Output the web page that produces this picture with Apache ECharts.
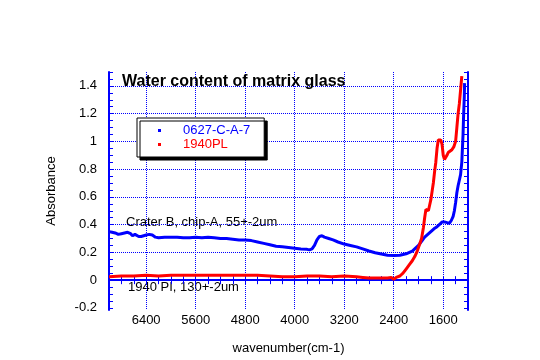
<!DOCTYPE html>
<html>
<head>
<meta charset="utf-8">
<script src="https://cdn.jsdelivr.net/npm/echarts@6/dist/echarts.min.js"></script>
<style>html,body{margin:0;padding:0;background:#fff;}#c{width:540px;height:360px;}</style>
</head>
<body>
<div id="c"></div>
<script>
// wavenumber (cm-1), absorbance
const blueWave = [7000,6950,6900,6850,6800,6750,6700,6650,6620,6580,6520,6480,6440,6400,6350,6300,6250,6200,6100,6000,5900,5800,5700,5600,5500,5400,5300,5200,5100,5000,4900,4800,4700,4600,4500,4400,4300,4200,4100,4000,3900,3800,3760,3720,3680,3640,3600,3560,3520,3450,3380,3300,3200,3100,3000,2900,2800,2700,2600,2500,2400,2300,2200,2100,2000,1950,1900,1850,1800,1750,1700,1650,1620,1580,1540,1500,1470,1440,1420,1400,1380,1360,1340,1320,1300,1290,1280,1270,1260,1255];
const blueAbs  = [0.35,0.345,0.34,0.33,0.335,0.34,0.345,0.335,0.32,0.33,0.315,0.315,0.32,0.325,0.33,0.325,0.31,0.305,0.31,0.31,0.31,0.305,0.305,0.31,0.305,0.31,0.305,0.30,0.30,0.295,0.29,0.29,0.285,0.275,0.265,0.255,0.245,0.24,0.235,0.23,0.225,0.222,0.218,0.225,0.25,0.29,0.315,0.32,0.31,0.30,0.29,0.275,0.26,0.25,0.24,0.225,0.21,0.198,0.188,0.18,0.178,0.18,0.19,0.21,0.25,0.28,0.31,0.33,0.35,0.37,0.385,0.405,0.42,0.42,0.415,0.41,0.43,0.46,0.5,0.56,0.63,0.68,0.72,0.76,0.85,0.95,1.05,1.2,1.32,1.42];
const redWave  = [7000,6800,6600,6400,6200,6000,5800,5600,5400,5200,5000,4800,4600,4400,4200,4000,3800,3600,3400,3200,3000,2900,2800,2700,2600,2500,2440,2400,2360,2300,2250,2200,2150,2100,2060,2020,1980,1950,1920,1900,1880,1860,1840,1820,1800,1780,1760,1740,1720,1700,1680,1660,1640,1620,1600,1580,1560,1540,1520,1500,1460,1430,1400,1380,1360,1340,1320,1300];
const redAbs   = [0.025,0.03,0.03,0.035,0.03,0.035,0.035,0.035,0.035,0.035,0.035,0.035,0.035,0.03,0.025,0.025,0.03,0.03,0.025,0.03,0.025,0.02,0.015,0.015,0.015,0.015,0.02,0.005,0.02,0.03,0.05,0.08,0.11,0.14,0.17,0.21,0.26,0.30,0.38,0.45,0.51,0.50,0.50,0.54,0.58,0.64,0.70,0.78,0.85,0.95,1.01,1.02,1.01,0.98,0.90,0.87,0.87,0.90,0.92,0.93,0.94,0.96,1.0,1.1,1.2,1.27,1.37,1.47];

const xLabels = [1600,2400,3200,4000,4800,5600,6400];
const yLabels = [-0.2,0,0.2,0.4,0.6,0.8,1,1.2,1.4];
const yGrid   = [0,0.2,0.4,0.6,0.8,1,1.2,1.4];
const yTicks  = [-0.2,-0.15,-0.1,-0.05,0,0.05,0.1,0.15,0.2,0.25,0.3,0.35,0.4,0.45,0.5,0.55,0.6,0.65,0.7,0.75,0.8,0.85,0.9,0.95,1,1.05,1.1,1.15,1.2,1.25,1.3,1.35,1.4,1.45,1.5];

const names = ['0627-C-A-7','1940PL'];
const BLUE = '#0000ff', RED = '#ff0000';
const FONT = 'Liberation Sans';

function zip(a,b){return a.map((v,i)=>[v,b[i]]);}

const chart = echarts.init(document.getElementById('c'), null, {renderer:'canvas'});
const axisLine = {show:true, lineStyle:{color:BLUE, width:2}};
const tick = {show:true, inside:true, length:4, lineStyle:{color:BLUE, width:1}};
const grid = {show:true, lineStyle:{color:BLUE, width:1, type:'dotted'}};
const xBase = {type:'value', min:1200, max:7000, inverse:true, interval:200};
const yBase = {type:'value', min:-0.215, max:1.5};

chart.setOption({
  animation:false,
  backgroundColor:'#fff',
  grid:{left:109, right:72, top:72, bottom:48, containLabel:false},
  title:{text:'Water content of matrix glass', left:122, top:74, padding:0,
    textStyle:{fontFamily:FONT, fontSize:16, fontWeight:'bold', color:'#000'}},
  legend:{orient:'vertical', left:137, top:118, padding:[6,14,6,21], itemGap:1,
    backgroundColor:'#fff', borderColor:'#000', borderWidth:1,
    shadowColor:'#000', shadowBlur:0, shadowOffsetX:3, shadowOffsetY:3,
    icon:'rect', itemWidth:3, itemHeight:3,
    textStyle:{fontFamily:FONT, fontSize:13, padding:[0,0,0,17]},
    data:[{name:names[0], textStyle:{color:BLUE}},{name:names[1], textStyle:{color:RED}}]},
  xAxis:[
    Object.assign({}, xBase, {position:'bottom', axisLine, axisTick:tick,
      axisLabel:{customValues:xLabels, color:'#000', fontFamily:FONT, fontSize:13, margin:4,
        formatter:v => String(v)},
      splitLine:{show:false},
      name:'wavenumber(cm-1)', nameLocation:'middle', nameGap:32,
      nameTextStyle:{fontFamily:FONT, fontSize:13, color:'#000'}}),
    Object.assign({}, xBase, {position:'top', axisLine, axisTick:tick, axisLabel:{show:false}, splitLine:{show:false}}),
    Object.assign({}, xBase, {interval:null, position:'bottom', axisLine:{show:false},
      axisTick:{show:false, customValues:xLabels}, axisLabel:{show:false}, splitLine:grid})
  ],
  yAxis:[
    Object.assign({}, yBase, {position:'left', axisLine, axisTick:Object.assign({customValues:yTicks}, tick),
      axisLabel:{customValues:yLabels, color:'#000', fontFamily:FONT, fontSize:13, margin:12,
        formatter:v => String(v)},
      splitLine:{show:false},
      name:'Absorbance', nameLocation:'middle', nameGap:51,
      nameTextStyle:{fontFamily:FONT, fontSize:13, color:'#000'}}),
    Object.assign({}, yBase, {position:'right', axisLine, axisTick:Object.assign({customValues:yTicks}, tick),
      axisLabel:{show:false}, splitLine:{show:false}}),
    Object.assign({}, yBase, {position:'left', axisLine:{show:false},
      axisTick:{show:false, customValues:yGrid}, axisLabel:{show:false}, splitLine:grid})
  ],
  graphic:[
    {type:'text', left:126, top:216, style:{text:'Crater B, chip-A, 55+-2um', fill:'#000', font:'13px "Liberation Sans"'}},
    {type:'text', left:128, top:281, style:{text:'1940 PI, 130+-2um', fill:'#000', font:'13px "Liberation Sans"'}}
  ],
  series:[
    {name:names[0], type:'line', xAxisIndex:0, yAxisIndex:0, data:zip(blueWave, blueAbs),
      showSymbol:false, symbol:'rect', symbolSize:3, itemStyle:{color:BLUE}, lineStyle:{color:BLUE, width:3}, z:3},
    {name:names[1], type:'line', xAxisIndex:0, yAxisIndex:0, data:zip(redWave, redAbs),
      showSymbol:false, symbol:'rect', symbolSize:3, itemStyle:{color:RED}, lineStyle:{color:RED, width:3}, z:4}
  ]
});
</script>
</body>
</html>
